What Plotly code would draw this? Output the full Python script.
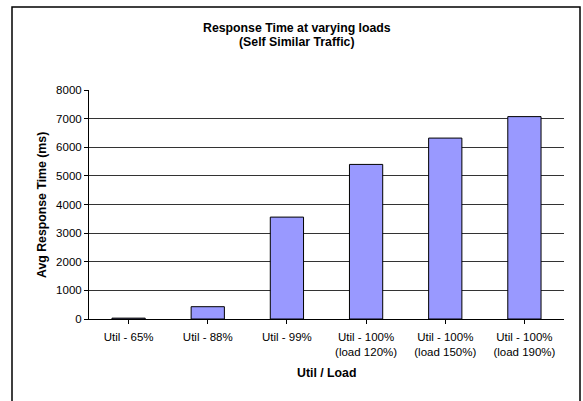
import plotly.graph_objects as go

# Chart data
categories = ["Util - 65%", "Util - 88%", "Util - 99%",
              "Util - 100%<br>(load 120%)", "Util - 100%<br>(load 150%)", "Util - 100%<br>(load 190%)"]
avg_response_ms = [30, 430, 3560, 5400, 6320, 7070]
y_ticks = [0, 1000, 2000, 3000, 4000, 5000, 6000, 7000, 8000]

FONT = "Liberation Sans, Arial, sans-serif"
W, H = 583, 401
L, R, T, B = 89, 19, 90, 82
pw, ph = W - L - R, H - T - B


def px_x(x):
    return (x - L) / pw


def px_y(y):
    return (H - B - y) / ph


def label(text, x, y, angle=0):
    return dict(text=text, xref="paper", yref="paper", x=px_x(x), y=px_y(y),
                xanchor="center", yanchor="middle", showarrow=False,
                textangle=angle, font=dict(size=12.3))


fig = go.Figure(
    go.Bar(
        x=list(range(len(categories))),
        y=avg_response_ms,
        marker=dict(color="#9999FF", line=dict(color="black", width=1)),
        width=0.42,
    )
)

fig.update_layout(
    width=W, height=H,
    margin=dict(l=L, r=R, t=T, b=B),
    paper_bgcolor="white", plot_bgcolor="white",
    font=dict(family=FONT, size=11.5, color="black"),
    showlegend=False,
    xaxis=dict(
        tickmode="array", tickvals=list(range(len(categories))), ticktext=categories,
        range=[-0.5, len(categories) - 0.5],
        showline=True, linecolor="black", linewidth=1,
        ticks="outside", tickson="boundaries", ticklen=4, tickcolor="black",
        showgrid=False, tickfont=dict(size=11.5), ticklabelstandoff=3,
    ),
    yaxis=dict(
        range=[0, 8000], tickvals=y_ticks,
        showline=True, linecolor="black", linewidth=1,
        ticks="outside", ticklen=4, tickcolor="black",
        showgrid=True, gridcolor="#333333", gridwidth=1,
        zeroline=False, tickfont=dict(size=11.5),
    ),
    shapes=[
        dict(type="rect", xref="paper", yref="paper",
             x0=px_x(12), x1=px_x(580), y0=px_y(403), y1=px_y(7),
             line=dict(color="black", width=1.5), layer="below"),
    ],
    annotations=[
        label("<b>Response Time at varying loads</b>", 297, 28),
        label("<b>(Self Similar Traffic)</b>", 297, 42),
        label("<b>Avg Response Time (ms)</b>", 42, 205, angle=-90),
        label("<b>Util / Load</b>", 326, 373),
    ],
)

fig.write_html("out.html")
